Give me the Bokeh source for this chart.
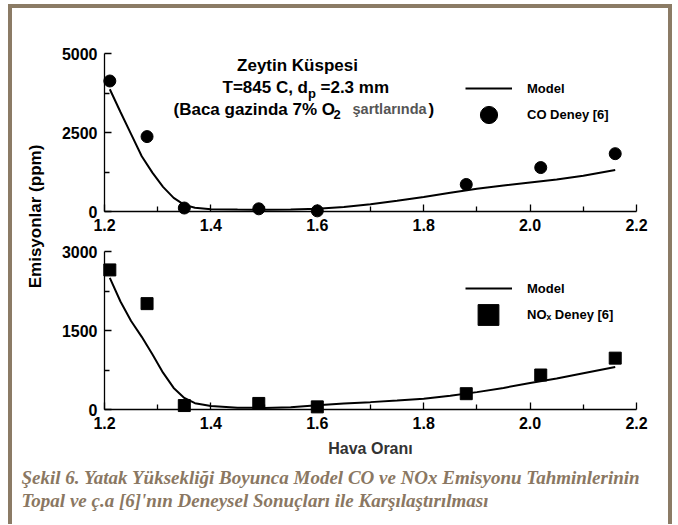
import math
from bokeh.plotting import figure
from bokeh.models import Range1d, FixedTicker, Label, Legend, LegendItem, NumeralTickFormatter
from bokeh.layouts import column, row
from bokeh.embed import file_html
from bokeh.resources import INLINE

# ---------------- data ----------------
air_ratio = [1.21, 1.28, 1.35, 1.49, 1.60, 1.88, 2.02, 2.16]
co_exp = [4130, 2370, 110, 85, 20, 855, 1390, 1830]
nox_exp = [2650, 2010, 75, 115, 50, 300, 655, 975]

model_x = [1.21, 1.23, 1.25, 1.27, 1.29, 1.31, 1.33, 1.35, 1.37, 1.40, 1.45, 1.50,
           1.55, 1.60, 1.65, 1.70, 1.75, 1.80, 1.85, 1.90, 1.95, 2.00, 2.05, 2.10, 2.16]
co_model = [3870, 3150, 2450, 1750, 1230, 780, 430, 210, 120, 75, 60, 55,
            60, 85, 140, 230, 340, 460, 590, 720, 820, 915, 1010, 1130, 1310]
nox_model = [2500, 2050, 1680, 1380, 1050, 700, 410, 220, 120, 65, 35, 30,
             45, 80, 115, 140, 170, 205, 260, 330, 410, 505, 590, 690, 805]

x_ticks = [1.2, 1.4, 1.6, 1.8, 2.0, 2.2]
x_minor = [1.3, 1.5, 1.7, 1.9, 2.1]
co_ticks = [0, 2500, 5000]
co_minor = [1250, 3750]
nox_ticks = [0, 1500, 3000]
nox_minor = [750, 2250]

SANS = "Liberation Sans"
SERIF = "Liberation Serif"
BROWN = "#8a7762"
FRAME = "#8b7b65"


def style_axes(p, yticks, yminor):
    p.xaxis.ticker = FixedTicker(ticks=x_ticks, minor_ticks=x_minor)
    p.yaxis.ticker = FixedTicker(ticks=yticks, minor_ticks=yminor)
    p.xaxis.formatter = NumeralTickFormatter(format="0.0")
    for ax in (p.xaxis[0], p.yaxis[0]):
        ax.major_tick_in = 7
        ax.major_tick_out = 0
        ax.minor_tick_in = 5
        ax.minor_tick_out = 0
        ax.axis_line_color = "black"
        ax.axis_line_width = 1.3
        ax.major_tick_line_width = 1.3
        ax.minor_tick_line_width = 1.3
        ax.major_label_text_font = SANS
        ax.major_label_text_font_style = "bold"
        ax.major_label_text_font_size = "16px"
        ax.major_label_text_color = "black"
    p.xaxis.major_label_standoff = 7
    p.yaxis.major_label_standoff = 7
    p.grid.visible = False
    p.outline_line_color = None


def make_legend(renderer, label, loc, gw, gh, standoff):
    return Legend(items=[LegendItem(label=label, renderers=[renderer])],
                  location=loc, padding=0, margin=0, spacing=0,
                  border_line_color=None, background_fill_alpha=0,
                  glyph_width=gw, glyph_height=gh, label_standoff=standoff,
                  label_height=20, label_text_font=SANS, label_text_font_style="bold",
                  label_text_font_size="13px", label_text_color="black")


# ---------------- top panel: CO ----------------
p1 = figure(width=616, height=228, x_range=Range1d(1.2, 2.2), y_range=Range1d(0, 5000),
            output_backend="svg", toolbar_location=None,
            min_border_left=52, min_border_right=32, min_border_top=45, min_border_bottom=25)
style_axes(p1, co_ticks, co_minor)
co_line = p1.line(model_x, co_model, line_color="black", line_width=2)
co_pts = p1.scatter(air_ratio, co_exp, marker="circle", size=12, fill_color="black",
                    line_color="black", level="overlay")
p1.add_layout(make_legend(co_line, "Model", (361, 113), 47, 20, 15), "center")
p1.add_layout(make_legend(co_pts, "CO Deney [6]", (361, 75), 47, 43, 15), "center")

txt = dict(x_units="screen", y_units="screen", text_font=SANS, text_font_style="bold",
           text_font_size="17px", text_baseline="middle", text_color="black")
sub = dict(txt)
sub.update(text_font_size="13px")
p1.add_layout(Label(x=193, y=146.5, text="Zeytin Küspesi", text_align="center", **txt))
p1.add_layout(Label(x=118, y=124.5, text="T=845 C, d", text_align="left", **txt))
p1.add_layout(Label(x=203.5, y=118.5, text="p", text_align="left", **sub))
p1.add_layout(Label(x=216, y=124.5, text="=2.3 mm", text_align="left", **txt))
p1.add_layout(Label(x=69, y=102.5, text="(Baca gazinda 7% O", text_align="left", **txt))
p1.add_layout(Label(x=229, y=97.5, text="2", text_align="left", **sub))
txt_g = dict(txt)
txt_g.update(text_color="#555555", text_font_size="14.5px")
p1.add_layout(Label(x=248, y=102.5, text="şartlarında", text_align="left", **txt_g))
p1.add_layout(Label(x=324, y=102.5, text=")", text_align="left", **txt))

# ---------------- bottom panel: NOx ----------------
p2 = figure(width=616, height=224, x_range=Range1d(1.2, 2.2), y_range=Range1d(0, 3000),
            output_backend="svg", toolbar_location=None,
            min_border_left=52, min_border_right=32, min_border_top=15, min_border_bottom=51)
style_axes(p2, nox_ticks, nox_minor)
p2.xaxis.axis_label = "Hava Oranı"
p2.xaxis.axis_label_text_font = SANS
p2.xaxis.axis_label_text_font_style = "bold"
p2.xaxis.axis_label_text_font_size = "16px"
p2.xaxis.axis_label_text_color = "#333333"
p2.xaxis.axis_label_standoff = 8
nox_line = p2.line(model_x, nox_model, line_color="black", line_width=2)
nox_pts = p2.scatter(air_ratio, nox_exp, marker="square", size=12, fill_color="black",
                     line_color="black", level="overlay")
p2.add_layout(make_legend(nox_line, "Model", (361, 111), 47, 20, 15), "center")
p2.add_layout(make_legend(nox_pts, "NOₓ Deney [6]", (358, 68), 52, 53, 13), "center")

# ---------------- y axis title ----------------
lab = figure(width=40, height=452, output_backend="svg", toolbar_location=None,
             x_axis_location=None, y_axis_location=None,
             min_border_left=0, min_border_right=0, min_border_top=0, min_border_bottom=0)
lab.grid.visible = False
lab.outline_line_color = None
lab.add_layout(Label(x=23, y=244, text="Emisyonlar (ppm)", angle=math.pi / 2,
                     text_align="center", **txt))

# ---------------- caption ----------------
cap = figure(width=656, height=64, output_backend="svg", toolbar_location=None,
             x_axis_location=None, y_axis_location=None,
             min_border_left=0, min_border_right=0, min_border_top=0, min_border_bottom=0)
cap.grid.visible = False
cap.outline_line_color = None
ctxt = dict(x_units="screen", y_units="screen", text_font=SERIF,
            text_font_style="bold italic", text_font_size="19px",
            text_baseline="middle", text_align="left", text_color=BROWN)
cap.add_layout(Label(x=9, y=47, text="Şekil 6. Yatak Yüksekliği Boyunca Model CO ve NOx Emisyonu Tahminlerinin", **ctxt))
cap.add_layout(Label(x=9, y=24, text="Topal ve ç.a [6]'nın Deneysel Sonuçları ile Karşılaştırılması", **ctxt))

outer = column(row(lab, column(p1, p2)), cap)
outer.styles = {"margin-left": "8px", "margin-top": "4px",
                "border-top": "4px solid " + FRAME, "border-left": "4px solid " + FRAME,
                "border-right": "4px solid " + FRAME}

open("out.html", "w").write(file_html(outer, INLINE))
